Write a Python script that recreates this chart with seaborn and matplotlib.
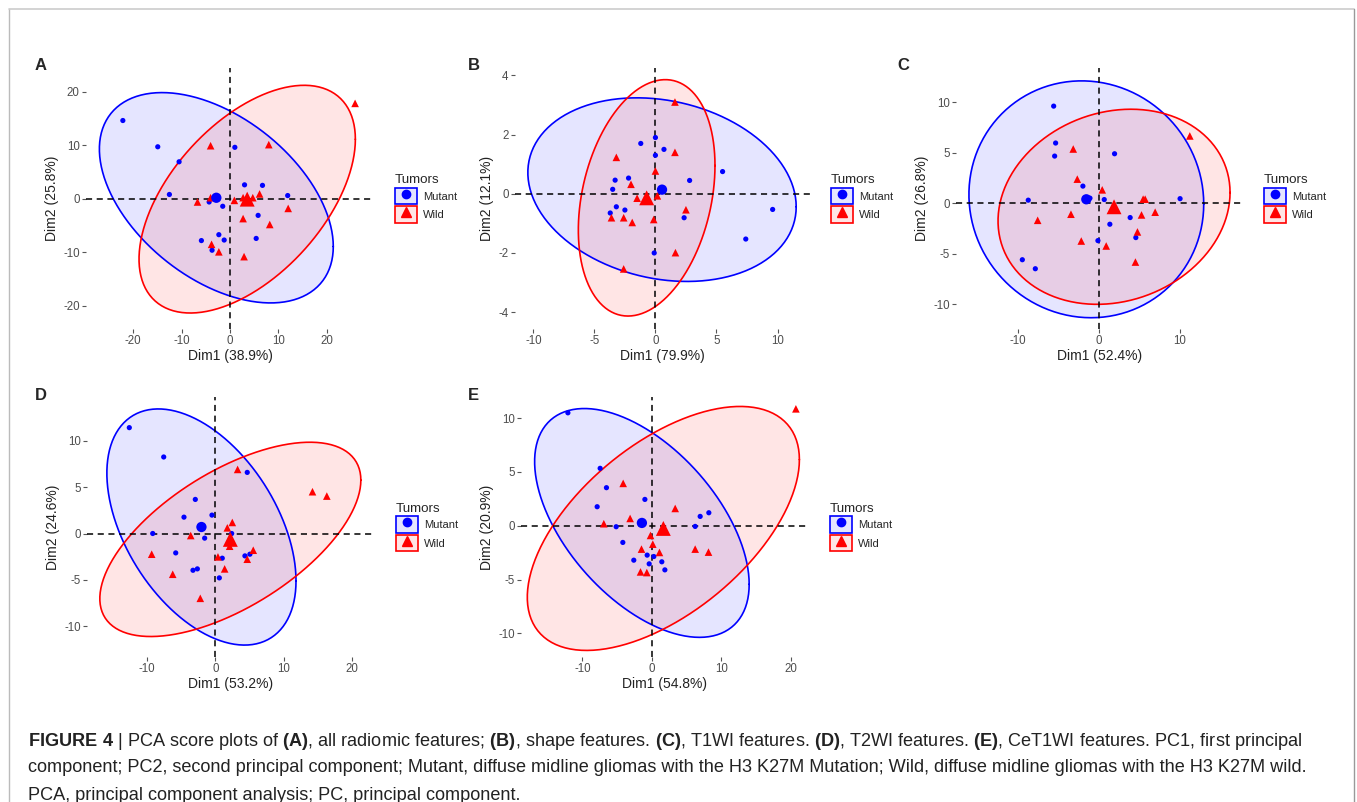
import numpy as np
import pandas as pd
import matplotlib
matplotlib.use("Agg")
import matplotlib.pyplot as plt
from matplotlib.lines import Line2D
from matplotlib.patches import Patch
from matplotlib.legend_handler import HandlerTuple
import seaborn as sns

# Panel A - all radiomic features
a_mut_x = [-22.1, -14.9, -10.5, -12.5, -4.3, -1.5, 1.0, 3.0, 6.7, 11.9, 5.8, -2.3, -5.9, -1.2, -3.7, 5.4]
a_mut_y = [14.6, 9.7, 6.9, 0.8, -0.6, -1.4, 9.6, 2.6, 2.5, 0.6, -3.1, -6.7, -7.8, -7.7, -9.6, -7.4]
a_wild_x = [25.8, -4.0, 8.0, -6.7, 0.9, 2.7, 4.7, 6.1, 12.0, 2.7, 8.2, -3.8, -2.3, 2.9, -4.0]
a_wild_y = [17.8, 9.9, 10.1, -0.6, -0.3, 0.2, 0.2, 0.9, -1.8, -3.7, -4.8, -8.5, -9.9, -10.8, 0.2]

# Panel B - shape features
b_mut_x = [-1.2, 0.0, 0.7, 0.0, -3.3, -2.2, -3.5, -3.2, -2.5, -3.7, 2.8, 5.5, 2.35, 9.6, 7.4, -0.1]
b_mut_y = [1.7, 1.9, 1.5, 1.3, 0.46, 0.53, 0.15, -0.44, -0.55, -0.65, 0.45, 0.75, -0.81, -0.53, -1.53, -2.0]
b_wild_x = [1.6, -3.2, 1.6, 0.0, -2.0, -1.5, 0.16, 2.5, -3.6, -2.6, -1.9, -0.14, 1.64, -2.6]
b_wild_y = [3.1, 1.23, 1.4, 0.77, 0.32, -0.15, -0.07, -0.54, -0.81, -0.81, -0.97, -0.87, -1.99, -2.54]

# Panel C - T1WI features
c_mut_x = [-5.57, -5.33, -5.45, 1.93, -1.97, -8.7, 0.66, 3.85, 1.35, 4.55, -0.12, -9.43, -7.83, 10.0, -1.6, -1.1]
c_mut_y = [9.6, 5.95, 4.66, 4.89, 1.69, 0.3, 0.36, -1.42, -2.08, -3.4, -3.7, -5.59, -6.48, 0.45, 0.45, 0.5]
c_wild_x = [-3.16, -2.66, 0.41, -3.44, -7.54, -2.17, 0.9, 5.45, 5.7, 5.25, 6.93, 4.75, 4.5, 11.2]
c_wild_y = [5.36, 2.38, 1.32, -1.09, -1.69, -3.74, -4.23, 0.4, 0.4, -1.16, -0.89, -2.84, -5.82, 6.65]

# Panel D - T2WI features
d_mut_x = [-12.6, -7.56, 4.68, -2.93, -4.59, -0.49, -9.17, -1.56, -5.8, 1.02, 4.34, 5.07, -3.27, -2.63, 0.59, 2.4]
d_mut_y = [11.4, 8.24, 6.58, 3.67, 1.76, 1.98, 0.0, -0.5, -2.09, -2.66, -2.41, -2.23, -3.96, -3.81, -4.78, 0.0]
d_wild_x = [3.27, 14.24, 16.34, 2.49, 1.76, -3.6, 2.1, 5.56, 4.68, 0.39, 1.37, -9.32, -6.24, -2.2]
d_wild_y = [6.9, 4.5, 4.03, 1.19, 0.61, -0.22, -1.37, -1.8, -2.77, -2.52, -3.81, -2.23, -4.39, -6.98]

# Panel E - CeT1WI features
e_mut_x = [-12.1, -7.45, -6.54, -7.88, -1.0, -5.14, -4.18, -2.6, -0.67, 0.29, -0.38, 1.44, 1.88, 6.25, 6.97, 8.22]
e_mut_y = [10.5, 5.34, 3.54, 1.77, 2.45, -0.09, -1.55, -3.2, -2.73, -2.86, -3.54, -3.35, -4.1, -0.06, 0.87, 1.21]
e_wild_x = [20.77, -4.13, 3.37, -3.13, -6.92, -0.19, 0.14, -1.49, 1.1, 6.25, 8.17, -1.63, -0.72]
e_wild_y = [10.87, 3.94, 1.61, 0.68, 0.19, -0.9, -1.71, -2.17, -2.48, -2.17, -2.45, -4.29, -4.35]

panel_letters = ["A", "B", "C", "D", "E"]
dim1_pct = [38.9, 79.9, 52.4, 53.2, 54.8]
dim2_pct = [25.8, 12.1, 26.8, 24.6, 20.9]
groups = ["Mutant", "Wild"]
colors = {"Mutant": "#0000FF", "Wild": "#FF0000"}
markers = {"Mutant": "o", "Wild": "^"}

caption = [
    r"$\bf{FIGURE\ 4}$ | PCA score plots of $\bf{(A)}$, all radiomic features; $\bf{(B)}$, shape features. "
    r"$\bf{(C)}$, T1WI features. $\bf{(D)}$, T2WI features. $\bf{(E)}$, CeT1WI features. PC1, first principal",
    "component; PC2, second principal component; Mutant, diffuse midline gliomas with the H3 K27M Mutation; "
    "Wild, diffuse midline gliomas with the H3 K27M wild.",
    "PCA, principal component analysis; PC, principal component.",
]

sns.set_style("white")
plt.rcParams["font.family"] = ["Liberation Sans", "DejaVu Sans"]
plt.rcParams["axes.unicode_minus"] = False
plt.rcParams["mathtext.fontset"] = "custom"
plt.rcParams["mathtext.rm"] = "Liberation Sans"
plt.rcParams["mathtext.bf"] = "Liberation Sans:bold"

W, H = 1357, 802
fig = plt.figure(figsize=(W / 100, H / 100), dpi=100)


def norm_ellipse(x, y, level=0.95, n=120):
    # same as ggplot2 stat_ellipse(type = "norm")
    pts = np.column_stack([x, y])
    center = pts.mean(axis=0)
    cov = np.cov(pts.T)
    dfd = len(x) - 1
    fq = dfd / 2 * ((1 - level) ** (-2 / dfd) - 1)  # qf(level, 2, dfd)
    radius = np.sqrt(2 * fq)
    t = np.linspace(0, 2 * np.pi, n)
    circle = np.column_stack([np.cos(t), np.sin(t)])
    chol = np.linalg.cholesky(cov)
    return center + radius * circle @ chol.T


def draw_panel(rect, letter, letter_x, mx, my, wx, wy, p1, p2, xlim, ylim, xticks, yticks):
    left, top, right, bottom = rect
    ax = fig.add_axes([left / W, 1 - bottom / H, (right - left) / W, (bottom - top) / H])
    df = pd.DataFrame({
        "Dim1": list(mx) + list(wx),
        "Dim2": list(my) + list(wy),
        "Tumors": ["Mutant"] * len(mx) + ["Wild"] * len(wx),
    })
    for g in groups:
        sub = df[df["Tumors"] == g]
        ell = norm_ellipse(sub["Dim1"].values, sub["Dim2"].values)
        ax.fill(ell[:, 0], ell[:, 1], color=colors[g], alpha=0.1, lw=0, zorder=1)
        ax.plot(ell[:, 0], ell[:, 1], color=colors[g], lw=1.2, zorder=2)
    ax.axhline(0, color="black", lw=1.1, ls=(0, (4, 3)), zorder=3)
    ax.axvline(0, color="black", lw=1.1, ls=(0, (4, 3)), zorder=3)

    sns.scatterplot(data=df, x="Dim1", y="Dim2", hue="Tumors", style="Tumors", size="Tumors",
                    palette=colors, markers=markers, sizes={"Mutant": 14, "Wild": 30},
                    linewidth=0, legend=False, ax=ax, zorder=4)
    means = df.groupby("Tumors", as_index=False)[["Dim1", "Dim2"]].mean()
    sns.scatterplot(data=means, x="Dim1", y="Dim2", hue="Tumors", style="Tumors", size="Tumors",
                    palette=colors, markers=markers, sizes={"Mutant": 55, "Wild": 115},
                    linewidth=0, legend=False, ax=ax, zorder=5)

    ax.set_xlim(xlim)
    ax.set_ylim(ylim)
    ax.set_xticks(xticks)
    ax.set_yticks(yticks)
    sns.despine(ax=ax, left=True, bottom=True)
    ax.grid(False)
    ax.tick_params(length=3, width=0.8, color="#555555", pad=1.5, labelsize=8.3, labelcolor="#4D4D4D",
                   bottom=True, left=True)
    ax.set_xlabel(f"Dim1 ({p1}%)", fontsize=10, color="#222222", labelpad=1)
    ax.set_ylabel(f"Dim2 ({p2}%)", fontsize=10, color="#222222", labelpad=3)

    handles = [
        (Patch(facecolor=colors[g], alpha=0.1, edgecolor="none"),
         Patch(facecolor="none", edgecolor=colors[g], lw=1.2),
         Line2D([], [], ls="", marker=markers[g], color=colors[g],
                markersize=6 if g == "Mutant" else 7.5))
        for g in groups
    ]
    gap = 21 / (right - left)
    ax.legend(handles, groups, handler_map={tuple: HandlerTuple(ndivide=1, pad=0)},
              title="Tumors", loc="center left", bbox_to_anchor=(1 + gap, 0.5),
              frameon=False, fontsize=8, title_fontsize=9.6, handlelength=1.95,
              handleheight=1.95, handletextpad=0.55, labelspacing=0.15, borderpad=0,
              borderaxespad=0, alignment="left")

    fig.text(letter_x / W, 1 - (top - 2) / H, letter, fontsize=12, fontweight="bold",
             va="center", ha="left")
    return ax


draw_panel((86, 68, 374, 329), "A", 35, a_mut_x, a_mut_y, a_wild_x, a_wild_y, dim1_pct[0], dim2_pct[0],
           (-29.7, 29.7), (-24.3, 24.4), [-20, -10, 0, 10, 20], [-20, -10, 0, 10, 20])
draw_panel((515, 68, 810, 329), "B", 468, b_mut_x, b_mut_y, b_wild_x, b_wild_y, dim1_pct[1], dim2_pct[1],
           (-11.5, 12.66), (-4.57, 4.25), [-10, -5, 0, 5, 10], [-4, -2, 0, 2, 4])
draw_panel((956, 68, 1243, 329), "C", 897, c_mut_x, c_mut_y, c_wild_x, c_wild_y, dim1_pct[2], dim2_pct[2],
           (-17.6, 17.75), (-12.44, 13.37), [-10, 0, 10], [-10, -5, 0, 5, 10])
draw_panel((87, 397, 375, 657), "D", 35, d_mut_x, d_mut_y, d_wild_x, d_wild_y, dim1_pct[3], dim2_pct[3],
           (-18.8, 23.4), (-13.3, 14.7), [-10, 0, 10, 20], [-10, -5, 0, 5, 10])
draw_panel((521, 397, 809, 657), "E", 468, e_mut_x, e_mut_y, e_wild_x, e_wild_y, dim1_pct[4], dim2_pct[4],
           (-18.86, 22.66), (-12.2, 11.97), [-10, 0, 10, 20], [-10, -5, 0, 5, 10])

# caption under the panels
for i, line in enumerate(caption):
    fig.text(28 / W, 1 - (741 + 27 * i) / H, line, fontsize=13.1, color="#222222",
             va="center", ha="left")

# page frame
fig.add_artist(Line2D([9 / W, 9 / W], [0, 1 - 9 / H], color="#BBBBBB", lw=1))
fig.add_artist(Line2D([9 / W, 1354 / W], [1 - 9 / H, 1 - 9 / H], color="#CCCCCC", lw=1.2))
fig.add_artist(Line2D([1354 / W, 1354 / W], [0, 1 - 9 / H], color="#999999", lw=1))

fig.savefig("out.png", dpi=100)
